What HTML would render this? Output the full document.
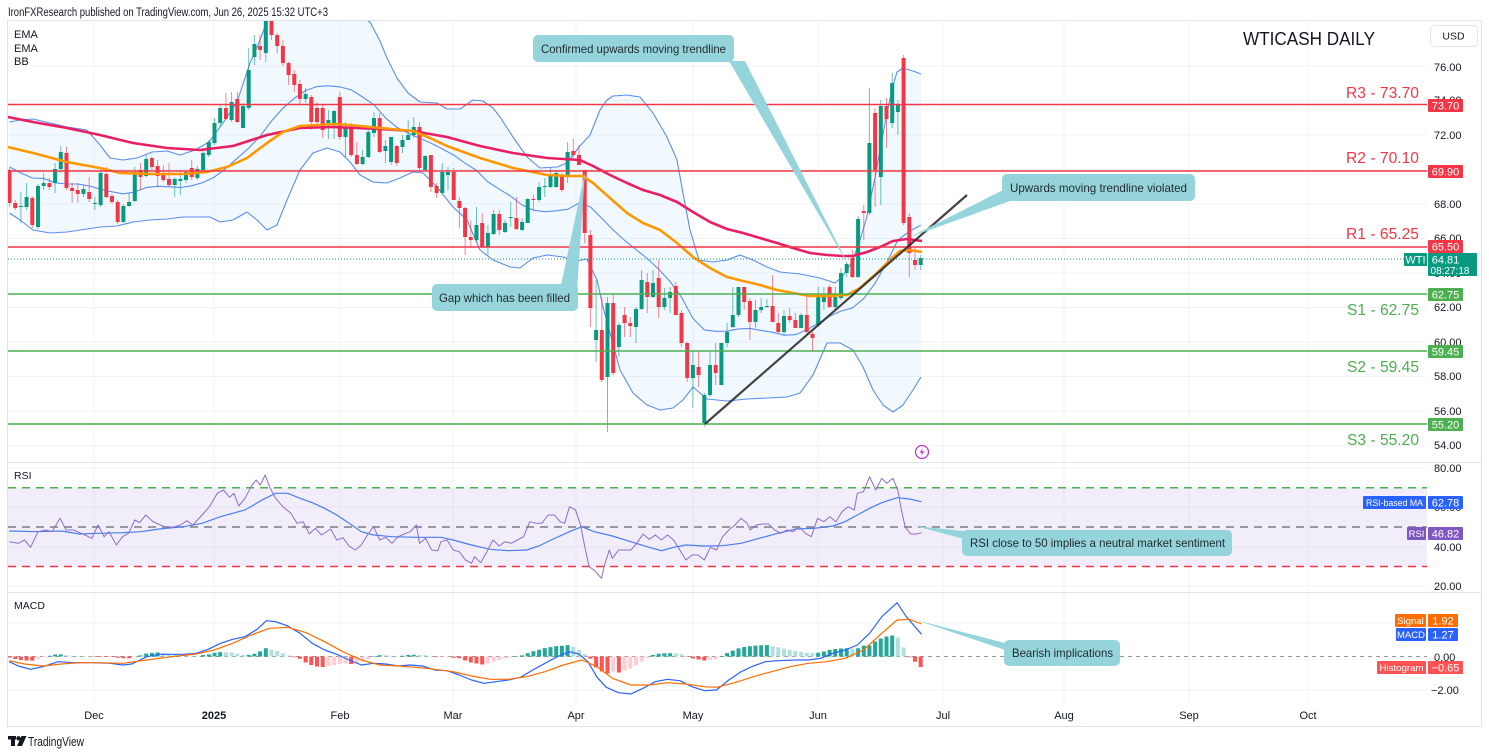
<!DOCTYPE html>
<html><head><meta charset="utf-8">
<style>
html,body{margin:0;padding:0;background:#fff;}
svg{display:block;font-family:"Liberation Sans",sans-serif;}
</style></head>
<body>
<svg width="1489" height="755" viewBox="0 0 1489 755" xmlns="http://www.w3.org/2000/svg">
<defs>
<clipPath id="mainClip"><rect x="8" y="21" width="1419" height="441"/></clipPath>
<clipPath id="rsiClip"><rect x="8" y="463" width="1419" height="129"/></clipPath>
<clipPath id="macdClip"><rect x="8" y="593" width="1419" height="110"/></clipPath>
</defs>
<rect width="1489" height="755" fill="#fff"/>
<text x="8" y="16" font-size="11.5" fill="#131722" textLength="320" lengthAdjust="spacingAndGlyphs">IronFXResearch published on TradingView.com, Jun 26, 2025 15:32 UTC+3</text>

<!-- grid -->
<g stroke="#F2F3F6" stroke-width="1">
<line x1="94" y1="21" x2="94" y2="703"/><line x1="214" y1="21" x2="214" y2="703"/><line x1="340" y1="21" x2="340" y2="703"/><line x1="453" y1="21" x2="453" y2="703"/><line x1="576" y1="21" x2="576" y2="703"/><line x1="693" y1="21" x2="693" y2="703"/><line x1="818" y1="21" x2="818" y2="703"/><line x1="943" y1="21" x2="943" y2="703"/><line x1="1064" y1="21" x2="1064" y2="703"/><line x1="1189" y1="21" x2="1189" y2="703"/><line x1="1308" y1="21" x2="1308" y2="703"/>
<line x1="8" y1="66" x2="1427" y2="66"/><line x1="8" y1="100.5" x2="1427" y2="100.5"/><line x1="8" y1="135" x2="1427" y2="135"/><line x1="8" y1="169.5" x2="1427" y2="169.5"/><line x1="8" y1="204" x2="1427" y2="204"/><line x1="8" y1="238.5" x2="1427" y2="238.5"/><line x1="8" y1="273" x2="1427" y2="273"/><line x1="8" y1="307.5" x2="1427" y2="307.5"/><line x1="8" y1="342" x2="1427" y2="342"/><line x1="8" y1="376.5" x2="1427" y2="376.5"/><line x1="8" y1="411" x2="1427" y2="411"/><line x1="8" y1="445.5" x2="1427" y2="445.5"/>
<line x1="8" y1="468" x2="1427" y2="468"/><line x1="8" y1="507" x2="1427" y2="507"/><line x1="8" y1="547" x2="1427" y2="547"/><line x1="8" y1="586" x2="1427" y2="586"/>
<line x1="8" y1="623" x2="1427" y2="623"/><line x1="8" y1="690" x2="1427" y2="690"/>
</g>

<!-- main pane -->
<g clip-path="url(#mainClip)">
<polygon fill="rgba(33,150,243,0.06)" points="9.5,122 20,120 33,119 50,123 67,127 87,130 100,145 110,158 123,160 137,158 152,152 167,151 180,155 195,150 209,142 223,123 237,102 250,63 258,45 266,24 275,8 294,1 323,14 351,12 370,22 380,41 387,58 397,78 408,93 420,102 437,103 447,109 460,109 473,100 483,101 493,108 500,117 513,137 527,157 540,168 557,167 567,163 579,147 590,135 600,110 607,100 613,96 627,95 640,97 653,113 667,137 677,160 683,193 690,230 699,260 713,262 727,260 740,255 753,260 767,267 780,272 800,274 820,278 835,283 843,276 852,262 860,240 866,220 875,178 880,150 886,118 892,89 897,72 903,68 913,71 921,74 921,377 913,390 903,405 893,412 883,405 873,390 863,367 853,350 840,343 827,343 813,375 800,393 787,397 767,398 747,399 727,401 707,399 700,393 693,387 683,400 673,408 660,410 647,405 633,393 620,370 610,333 603,307 597,280 587,259 577,261 563,257 547,255 533,258 520,268 510,267 493,260 480,250 467,220 453,207 437,187 423,173 413,172 400,178 387,183 373,182 360,175 350,162 340,152 327,148 313,153 300,170 287,200 277,225 267,230 257,220 247,212 233,220 220,222 210,217 200,217 183,217 167,219 150,220 133,222 117,226 100,227 87,229 67,232 50,233 33,230 20,220 9.5,213"/>
<g fill="none" stroke="#5B8DEF" stroke-width="1.1" stroke-linejoin="round">
<polyline points="9.5,122 20,120 33,119 50,123 67,127 87,130 100,145 110,158 123,160 137,158 152,152 167,151 180,155 195,150 209,142 223,123 237,102 250,63 258,45 266,24 275,8 294,1 323,14 351,12 370,22 380,41 387,58 397,78 408,93 420,102 437,103 447,109 460,109 473,100 483,101 493,108 500,117 513,137 527,157 540,168 557,167 567,163 579,147 590,135 600,110 607,100 613,96 627,95 640,97 653,113 667,137 677,160 683,193 690,230 699,260 713,262 727,260 740,255 753,260 767,267 780,272 800,274 820,278 835,283 843,276 852,262 860,240 866,220 875,178 880,150 886,118 892,89 897,72 903,68 913,71 921,74"/>
<polyline points="9.5,213 20,220 33,230 50,233 67,232 87,229 100,227 117,226 133,222 150,220 167,219 183,217 200,217 210,217 220,222 233,220 247,212 257,220 267,230 277,225 287,200 300,170 313,153 327,148 340,152 350,162 360,175 373,182 387,183 400,178 413,172 423,173 437,187 453,207 467,220 480,250 493,260 510,267 520,268 533,258 547,255 563,257 577,261 587,259 597,280 603,307 610,333 620,370 633,393 647,405 660,410 673,408 683,400 693,387 700,393 707,399 727,401 747,399 767,398 787,397 800,393 813,375 827,343 840,343 853,350 863,367 873,390 883,405 893,412 903,405 913,390 921,377"/>
<polyline points="9.5,166.9 20.9,173 32.3,178 43.7,178.4 55.1,182.8 66.5,184 77.8,184 89.2,186 100.6,189.2 112,191.8 123.4,193.9 134.8,191.9 146.2,187.6 157.6,186.3 169,186.7 180.4,187.6 191.7,185.8 203.1,182.5 214.5,177 225.9,168.4 237.3,158.2 248.7,148.3 260.1,136.2 271.5,121 282.9,108.2 294.3,98.3 305.6,90.5 317,86.6 328.4,85.8 339.8,86.9 351.2,89.8 362.6,97 374,104.8 385.4,117.8 396.8,127.3 408.2,133.1 419.5,138.2 430.9,143.1 442.3,148.9 453.7,155.1 465.1,163.2 476.5,170.4 487.9,181.9 499.3,189.2 510.7,196.2 522.1,205 533.4,210.2 544.8,211.7 556.2,210.8 567.6,209.3 579,203.1 590.4,206.9 601.8,218.4 613.2,230 624.6,240.4 636,249.6 647.3,258.5 658.7,269.3 670.1,281.5 681.5,297.3 692.9,318.4 704.3,329.9 715.7,331.3 727.1,331.2 738.5,328.9 749.9,328.4 761.2,330.4 772.6,332.3 784,335.2 795.4,334.7 806.8,329.9 818.2,323.1 829.6,316.3 841,311 852.4,308 863.8,298.4 875.1,283.2 886.5,263 897.9,240 909.3,231.4 920.7,225.2"/>
</g>
<!-- candles -->
<path stroke="#089981" stroke-opacity="0.6" stroke-width="1" fill="none" d="M20.9 192V223 M26.6 183V210 M38 184V229 M43.7 173V190 M55.1 163V193 M60.8 146V173 M83.5 185V197 M94.9 197V210 M100.6 170V207 M123.4 204V223 M129.1 193V207 M134.8 167V202 M146.2 155V177 M174.7 177V197 M180.4 172V195 M186 170V183 M197.4 166V180 M203.1 150V172 M208.8 140V157 M214.5 118V145 M220.2 105V127 M231.6 92V122 M243 103V128 M248.7 48V110 M254.4 35V65 M265.8 -6V62 M305.6 88V103 M328.4 110V139 M334.1 110V139 M345.5 122V157 M362.6 150V165 M368.3 130V158 M374 112V137 M385.4 140V163 M391.1 137V165 M402.5 135V153 M408.2 120V140 M413.8 117V138 M425.2 155V170 M442.3 163V193 M448 167V190 M476.5 207V242 M487.9 225V255 M493.6 210V235 M505 220V233 M510.7 202V227 M522.1 218V231 M527.7 198V223 M539.1 182V202 M544.8 178V197 M550.5 168V188 M556.2 170V188 M567.6 142V183 M596.1 280V362 M607.5 297V432 M618.9 323V357 M636 307V343 M641.6 270V310 M653 270V298 M664.4 288V310 M670.1 287V313 M692.9 350V408 M704.3 393V427 M710 352V397 M721.4 343V385 M727.1 323V347 M732.8 287V328 M738.5 287V317 M755.5 300V328 M761.2 298V313 M766.9 299V308 M784 310V335 M801.1 313V328 M818.2 287V327 M823.9 287V310 M835.3 287V310 M841 268V300 M846.7 262V277 M858.1 216V278 M869.4 88V215 M880.8 100V205 M892.2 73V128 M897.9 100V135 M920.7 255V270"/>
<path stroke="#F23645" stroke-opacity="0.6" stroke-width="1" fill="none" d="M9.5 168V207 M15.2 200V210 M32.3 196V228 M49.4 178V190 M66.5 147V190 M72.1 183V203 M77.8 183V203 M89.2 177V202 M106.3 167V198 M112 194V204 M117.7 200V224 M140.5 163V190 M151.9 157V170 M157.6 160V187 M163.3 165V182 M169 163V187 M191.7 160V180 M225.9 93V120 M237.3 92V123 M260.1 35V60 M271.5 -2V40 M277.2 33V53 M282.9 40V66 M288.6 62V85 M294.3 70V92 M299.9 80V105 M311.3 95V130 M317 102V127 M322.7 105V138 M339.8 92V140 M351.2 123V157 M356.9 142V165 M379.7 113V153 M396.8 145V166 M419.5 122V170 M430.9 155V192 M436.6 183V198 M453.7 168V200 M459.4 197V228 M465.1 207V255 M470.8 220V247 M482.2 213V247 M499.3 210V235 M516.4 197V230 M533.4 195V210 M561.9 173V192 M573.3 139V158 M579 145V165 M584.7 170V243 M590.4 230V327 M601.8 297V382 M613.2 295V375 M624.6 307V337 M630.3 317V337 M647.3 273V313 M658.7 260V318 M675.8 282V315 M681.5 310V347 M687.2 342V382 M698.6 350V387 M715.7 343V385 M744.2 287V310 M749.9 298V340 M772.6 275V322 M778.3 313V333 M789.7 308V323 M795.4 313V328 M806.8 295V335 M812.5 332V351 M829.6 285V308 M852.4 250V278 M863.8 205V240 M875.1 108V207 M886.5 98V148 M903.6 55V225 M909.3 213V277 M915 248V270"/>
<path fill="#089981" d="M18.9 206h4v1h-4z M24.6 197h4v10h-4z M36 186h4v41h-4z M41.7 183h4v3h-4z M53.1 169h4v14h-4z M58.8 152h4v17h-4z M81.5 189h4v5h-4z M92.9 203h4v1h-4z M98.6 173h4v32h-4z M121.4 206h4v16h-4z M127.1 202h4v4h-4z M132.8 172h4v29h-4z M144.2 159h4v17h-4z M172.7 179h4v6h-4z M178.4 179h4v2h-4z M184 172h4v8h-4z M195.4 169h4v9h-4z M201.1 153h4v17h-4z M206.8 142h4v13h-4z M212.5 123h4v20h-4z M218.2 108h4v15h-4z M229.6 102h4v18h-4z M241 106h4v22h-4z M246.7 70h4v38h-4z M252.4 44h4v13h-4z M263.8 4h4v49h-4z M303.6 94h4v5h-4z M326.4 120h4v3h-4z M332.1 111h4v12h-4z M343.5 127h4v10h-4z M360.6 157h4v7h-4z M366.3 132h4v25h-4z M372 118h4v15h-4z M383.4 146h4v5h-4z M389.1 137h4v25h-4z M400.5 140h4v7h-4z M406.2 135h4v5h-4z M411.8 127h4v8h-4z M423.2 156h4v14h-4z M440.3 172h4v21h-4z M446 172h4v3h-4z M474.5 225h4v15h-4z M485.9 233h4v14h-4z M491.6 214h4v20h-4z M503 223h4v9h-4z M508.7 217h4v1h-4z M520.1 222h4v8h-4z M525.7 199h4v24h-4z M537.1 187h4v13h-4z M542.8 186h4v1h-4z M548.5 174h4v13h-4z M554.2 173h4v14h-4z M565.6 152h4v25h-4z M594.1 330h4v10h-4z M605.5 303h4v74h-4z M616.9 325h4v22h-4z M634 309h4v18h-4z M639.6 280h4v29h-4z M651 283h4v14h-4z M662.4 298h4v9h-4z M668.1 292h4v6h-4z M690.9 365h4v13h-4z M702.3 395h4v28h-4z M708 365h4v30h-4z M719.4 343h4v42h-4z M725.1 332h4v11h-4z M730.8 315h4v12h-4z M736.5 287h4v28h-4z M753.5 310h4v12h-4z M759.2 307h4v3h-4z M764.9 306h4v1h-4z M782 316h4v16h-4z M799.1 315h4v13h-4z M816.2 296h4v29h-4z M821.9 295h4v7h-4z M833.3 297h4v10h-4z M839 273h4v25h-4z M844.7 264h4v9h-4z M856.1 219h4v58h-4z M867.4 143h4v70h-4z M878.8 106h4v71h-4z M890.2 83h4v40h-4z M895.9 105h4v7h-4z M918.7 258h4v7h-4z"/>
<path fill="#F23645" d="M7.5 170h4v33h-4z M13.2 203h4v5h-4z M30.3 198h4v27h-4z M47.4 183h4v4h-4z M64.5 153h4v35h-4z M70.1 188h4v3h-4z M75.8 190h4v4h-4z M87.2 192h4v7h-4z M104.3 174h4v23h-4z M110 196h4v6h-4z M115.7 202h4v20h-4z M138.5 170h4v7h-4z M149.9 158h4v9h-4z M155.6 166h4v10h-4z M161.3 173h4v7h-4z M167 179h4v6h-4z M189.7 168h4v9h-4z M223.9 108h4v11h-4z M235.3 99h4v23h-4z M258.1 46h4v4h-4z M269.5 4h4v31h-4z M275.2 35h4v11h-4z M280.9 46h4v17h-4z M286.6 63h4v12h-4z M292.3 74h4v11h-4z M297.9 84h4v15h-4z M309.3 97h4v25h-4z M315 108h4v14h-4z M320.7 108h4v22h-4z M337.8 97h4v40h-4z M349.2 128h4v27h-4z M354.9 155h4v9h-4z M377.7 118h4v34h-4z M394.8 146h4v17h-4z M417.5 127h4v41h-4z M428.9 155h4v32h-4z M434.6 186h4v7h-4z M451.7 172h4v28h-4z M457.4 201h4v7h-4z M463.1 208h4v29h-4z M468.8 237h4v3h-4z M480.2 223h4v24h-4z M497.3 214h4v16h-4z M514.4 218h4v11h-4z M531.4 199h4v1h-4z M559.9 175h4v15h-4z M571.3 151h4v4h-4z M577 155h4v10h-4z M582.7 170h4v63h-4z M588.4 235h4v73h-4z M599.8 330h4v50h-4z M611.2 303h4v70h-4z M622.6 315h4v8h-4z M628.3 323h4v3h-4z M645.3 282h4v15h-4z M656.7 278h4v29h-4z M673.8 286h4v29h-4z M679.5 313h4v30h-4z M685.2 343h4v35h-4z M696.6 367h4v8h-4z M713.7 365h4v8h-4z M742.2 287h4v15h-4z M747.9 301h4v21h-4z M770.6 306h4v16h-4z M776.3 323h4v9h-4z M787.7 316h4v4h-4z M793.4 320h4v8h-4z M804.8 315h4v17h-4z M810.5 334h4v4h-4z M827.6 287h4v20h-4z M850.4 258h4v19h-4z M861.8 211h4v2h-4z M873.1 113h4v57h-4z M884.5 106h4v13h-4z M901.6 58h4v165h-4z M907.3 217h4v36h-4z M913 260h4v5h-4z"/>
<!-- EMAs -->
<polyline fill="none" stroke="#E91E63" stroke-width="2.6" stroke-linejoin="round" points="8,117 33,122 67,128 100,135 133,143 167,148 200,150 233,146 267,135 300,128 333,127 380,129 413,131 447,137 480,146 513,153 547,158 580,160 593,166 610,175 627,183 643,190 660,195 677,202 693,212 710,222 727,229 743,233 760,238 777,243 793,248 810,253 827,255 843,256 853,256 867,252 880,247 893,241 907,239 922,241"/>
<polyline fill="none" stroke="#FF9800" stroke-width="2.6" stroke-linejoin="round" points="8,147 33,153 67,162 100,168 120,173 150,174 183,174 207,172 227,167 247,158 267,143 283,132 300,126 333,124 350,125 380,128 413,131 430,138 447,146 480,158 513,168 547,175 570,176 583,176 593,183 610,198 627,213 643,223 660,230 677,243 693,257 710,268 727,277 743,281 760,285 777,290 793,293 810,296 827,296 847,295 860,288 877,273 893,257 900,251 910,250 922,252"/>
<line x1="8" y1="259" x2="1404" y2="259" stroke="#089981" stroke-width="1" stroke-dasharray="1,2"/>
<g stroke-width="1.6">
<line x1="8" y1="104.5" x2="1427" y2="104.5" stroke="#F23645"/>
<line x1="8" y1="171" x2="1427" y2="171" stroke="#F23645"/>
<line x1="8" y1="247" x2="1427" y2="247" stroke="#F23645"/>
<line x1="8" y1="294" x2="1427" y2="294" stroke="#4CAF50"/>
<line x1="8" y1="351" x2="1427" y2="351" stroke="#4CAF50"/>
<line x1="8" y1="424" x2="1427" y2="424" stroke="#4CAF50"/>
</g>
<line x1="705" y1="424" x2="967" y2="195" stroke="#2f2f2f" stroke-width="2.2" stroke-opacity="0.9"/>
</g>

<!-- R/S labels -->
<g font-size="16" fill="#F23645">
<text x="1346" y="98" textLength="73" lengthAdjust="spacingAndGlyphs">R3 - 73.70</text>
<text x="1346" y="163" textLength="73" lengthAdjust="spacingAndGlyphs">R2 - 70.10</text>
<text x="1346" y="239" textLength="73" lengthAdjust="spacingAndGlyphs">R1 - 65.25</text>
</g>
<g font-size="16" fill="#4CAF50">
<text x="1347" y="315" textLength="72" lengthAdjust="spacingAndGlyphs">S1 - 62.75</text>
<text x="1347" y="372" textLength="72" lengthAdjust="spacingAndGlyphs">S2 - 59.45</text>
<text x="1347" y="445" textLength="72" lengthAdjust="spacingAndGlyphs">S3 - 55.20</text>
</g>

<!-- lightning icon -->
<g transform="translate(922,452)">
<circle r="6.5" fill="#fff" stroke="#C837D6" stroke-width="1.3"/>
<path d="M1,-4 L-2.5,0.8 L0,0.8 L-1,4 L2.5,-0.8 L0,-0.8 Z" fill="#C837D6"/>
</g>

<!-- RSI pane -->
<rect x="8" y="487.7" width="1419" height="79" fill="rgba(126,87,194,0.1)"/>
<line x1="8" y1="487.7" x2="1427" y2="487.7" stroke="#4CAF50" stroke-width="1.5" stroke-dasharray="8,6"/>
<line x1="8" y1="527" x2="1427" y2="527" stroke="#787B86" stroke-width="1.5" stroke-dasharray="8,6"/>
<line x1="8" y1="566.5" x2="1427" y2="566.5" stroke="#F23645" stroke-width="1.5" stroke-dasharray="8,6"/>
<g clip-path="url(#rsiClip)" fill="none">
<polyline stroke="#4A7CF0" stroke-width="1.2" points="9.2,531 36.7,531.7 61.2,531 79.6,534 98,533.3 122.5,532.7 140.8,531.7 159.2,529 183.7,526.7 202.1,523.3 220.5,516.7 245,510 263.3,499.3 275.6,493.3 287.8,493.3 300.1,498.3 312.3,502.7 324.6,508.3 336.8,515 349.1,523.3 361.3,531.7 373.6,535 391.9,536.7 416.4,537.3 440.9,537.3 453.2,540 471.5,545 489.9,549.3 508.3,550.7 526.6,550 538.9,546 551.1,540 569.5,531.7 581.8,526.7 594,531.7 612.4,536 630.8,541.7 649.1,547.3 661.4,550.7 673.6,547.3 685.9,545 704.3,546 722.6,545.7 741,543.3 759.3,538.3 777.7,533.3 796.1,529 814.4,528.3 832.8,526 845.1,521.7 857.3,515 869.6,508.3 881.8,502.7 897.1,497.7 909.4,499 921.6,501.7"/>
<polyline stroke="#8E6CCB" stroke-width="1" stroke-linejoin="round" points="9.2,541.7 18.4,543.3 24.5,540 30.6,547.3 38,531.7 45.9,530 52.1,531.7 60,518.3 66.1,530 73.5,530 82.7,534 91.9,538.3 98,525 104.1,536.7 109,531.7 116.4,545 122.5,536.7 128.6,533.3 134.7,520 139.6,522.7 145.8,515 153.1,521.7 160.4,525 166.6,527.7 174.5,526.7 180.7,525 186.8,520.7 192.9,525 202.1,515 209.4,506.7 217.4,493.3 223.5,490 229.6,497.3 233.9,493.3 238.8,506 245,498.3 251.1,486.7 256,480 260.3,485 265.2,475 269.5,486.7 275.6,498.3 282.9,506.7 290.9,513.3 297,523.3 303.1,521.7 309.3,534 315.4,528.3 321.5,535 330.7,529 336.8,540 342.9,537.7 349.1,546 355.2,550 361.3,545 367.4,535 373.6,526.7 379.7,540 385.8,537.3 391.9,543.3 398.1,536.7 404.2,534 410.3,531.7 416.4,525 419.5,543.3 425.6,538.3 431.7,550 437.9,550.7 440.9,541.7 447.1,540 453.2,550 459.3,551.7 465.4,560 471.5,563.3 474.6,556.7 480.7,562.7 486.9,551.7 493,540 499.1,546 505.2,541.7 511.3,543.3 517.5,540 523.6,536.7 529.7,521.7 535.8,523.3 541.9,523.3 548.1,515 554.2,515 560.3,521.7 564.6,523.3 569.5,506.7 575.6,510 580.5,525 584.8,546.7 589.1,566.7 594,570 597.1,573.3 601.4,578.3 605,563.3 609.3,550 612.4,558.3 618.5,550 624.6,550 630.8,550 636.9,543.3 643,534 649.1,539.3 655.3,535 661.4,540 667.5,535 673.6,540 679.8,550 685.9,560 692,555 698.1,555 704.3,560 710.4,547.3 716.5,550 722.6,536.7 728.8,530 734.9,525 741,518.3 747.1,523.3 750.2,530 756.3,525 762.4,524 768.6,524 774.7,530 780.8,533.3 786.9,530 793.1,531.7 799.2,526.7 805.3,533.3 811.4,536.7 817.5,518.3 823.7,521.7 829.8,516.7 835.9,521.7 842,511.7 848.2,506.7 854.3,510 857.3,493.3 863.5,491.7 869.6,476.7 875.7,490 881.8,478.3 886.7,483.3 892.9,478.3 897.8,490 901.4,510 905.1,526.7 910.6,534 916.7,534 921.6,532.7"/>
</g>

<!-- MACD pane -->
<line x1="8" y1="656.5" x2="1427" y2="656.5" stroke="#9598A1" stroke-width="1" stroke-dasharray="4,4"/>
<g clip-path="url(#macdClip)">
<path fill="#26A69A" d="M47.4 655.8h4v0.7h-4z M53.1 654.5h4v2h-4z M58.8 654.4h4v2.1h-4z M138.5 655.4h4v1.1h-4z M144.2 653.5h4v3h-4z M149.9 652.9h4v3.6h-4z M155.6 652.5h4v4h-4z M201.1 655h4v1.5h-4z M206.8 654.4h4v2.1h-4z M212.5 652.7h4v3.8h-4z M218.2 652.1h4v4.4h-4z M246.7 654.9h4v1.6h-4z M252.4 653.7h4v2.8h-4z M258.1 651.4h4v5.1h-4z M263.8 648.2h4v8.3h-4z M372 656h4v0.5h-4z M377.7 655.2h4v1.3h-4z M400.5 655.8h4v0.7h-4z M406.2 655h4v1.5h-4z M411.8 654.7h4v1.8h-4z M514.4 656h4v0.5h-4z M520.1 655.4h4v1.1h-4z M525.7 653.2h4v3.3h-4z M531.4 651.3h4v5.2h-4z M537.1 649.7h4v6.8h-4z M542.8 648.1h4v8.4h-4z M548.5 647.1h4v9.4h-4z M554.2 646.1h4v10.4h-4z M559.9 645.8h4v10.7h-4z M565.6 645.1h4v11.4h-4z M651 655h4v1.5h-4z M656.7 653.7h4v2.8h-4z M662.4 653.3h4v3.2h-4z M668.1 653.2h4v3.3h-4z M719.4 656h4v0.5h-4z M725.1 653.1h4v3.4h-4z M730.8 650.6h4v5.9h-4z M736.5 648.4h4v8.1h-4z M742.2 647h4v9.5h-4z M747.9 646.2h4v10.3h-4z M753.5 645.6h4v10.9h-4z M759.2 645.2h4v11.3h-4z M764.9 645.1h4v11.4h-4z M816.2 652.7h4v3.8h-4z M821.9 651.5h4v5h-4z M827.6 649.9h4v6.6h-4z M833.3 649h4v7.5h-4z M839 648.5h4v8h-4z M844.7 648.2h4v8.3h-4z M856.1 648.2h4v8.3h-4z M861.8 645.6h4v10.9h-4z M867.4 645.4h4v11.1h-4z M873.1 641.5h4v15h-4z M878.8 638.5h4v18h-4z M884.5 636.5h4v20h-4z M890.2 635.5h4v21h-4z"/>
<path fill="#B2DFDB" d="M64.5 655.1h4v1.4h-4z M70.1 655.9h4v0.6h-4z M75.8 656h4v0.5h-4z M81.5 656h4v0.5h-4z M87.2 656h4v0.5h-4z M161.3 653h4v3.5h-4z M167 653.8h4v2.7h-4z M172.7 654.5h4v2h-4z M178.4 655.1h4v1.4h-4z M184 655.5h4v1h-4z M189.7 655.6h4v0.9h-4z M195.4 655.6h4v0.9h-4z M223.9 652.2h4v4.3h-4z M229.6 652.5h4v4h-4z M235.3 653.6h4v2.9h-4z M241 655h4v1.5h-4z M269.5 649.6h4v6.9h-4z M275.2 650.9h4v5.6h-4z M280.9 653.2h4v3.3h-4z M286.6 655.5h4v1h-4z M383.4 655.2h4v1.3h-4z M389.1 655.8h4v0.7h-4z M394.8 656h4v0.5h-4z M417.5 654.7h4v1.8h-4z M423.2 655.1h4v1.4h-4z M428.9 656h4v0.5h-4z M446 656h4v0.5h-4z M571.3 646.8h4v9.7h-4z M577 650h4v6.5h-4z M582.7 654.2h4v2.3h-4z M673.8 653.5h4v3h-4z M679.5 654.3h4v2.2h-4z M770.6 646.2h4v10.3h-4z M776.3 647.3h4v9.2h-4z M782 648.6h4v7.9h-4z M787.7 650h4v6.5h-4z M793.4 650.8h4v5.7h-4z M799.1 651.9h4v4.6h-4z M804.8 652.9h4v3.6h-4z M810.5 653h4v3.5h-4z M850.4 648.5h4v8h-4z M895.9 637.5h4v19h-4z M901.6 647.5h4v9h-4z"/>
<path fill="#FF5252" d="M7.5 656.5h4v1h-4z M13.2 656.5h4v2.5h-4z M18.9 656.5h4v3.5h-4z M24.6 656.5h4v4h-4z M30.3 656.5h4v4.1h-4z M92.9 656.5h4v0.5h-4z M98.6 656.5h4v0.5h-4z M104.3 656.5h4v0.5h-4z M110 656.5h4v0.5h-4z M115.7 656.5h4v1.2h-4z M121.4 656.5h4v1.7h-4z M127.1 656.5h4v1.8h-4z M292.3 656.5h4v0.7h-4z M297.9 656.5h4v2.3h-4z M303.6 656.5h4v6h-4z M309.3 656.5h4v8.5h-4z M315 656.5h4v10h-4z M320.7 656.5h4v10.5h-4z M349.2 656.5h4v7.5h-4z M434.6 656.5h4v0.6h-4z M451.7 656.5h4v1.2h-4z M457.4 656.5h4v1.8h-4z M463.1 656.5h4v4h-4z M468.8 656.5h4v6h-4z M474.5 656.5h4v7h-4z M480.2 656.5h4v8h-4z M588.4 656.5h4v2.3h-4z M594.1 656.5h4v11h-4z M599.8 656.5h4v15h-4z M605.5 656.5h4v17h-4z M616.9 656.5h4v16h-4z M685.2 656.5h4v0.5h-4z M690.9 656.5h4v2h-4z M696.6 656.5h4v3h-4z M702.3 656.5h4v4h-4z M907.3 656.5h4v0.8h-4z M913 656.5h4v5.2h-4z M918.7 656.5h4v10.5h-4z"/>
<path fill="#FFCDD2" d="M36 656.5h4v2.4h-4z M41.7 656.5h4v0.5h-4z M132.8 656.5h4v0.8h-4z M326.4 656.5h4v9.5h-4z M332.1 656.5h4v8.5h-4z M337.8 656.5h4v7.5h-4z M343.5 656.5h4v7h-4z M354.9 656.5h4v6.5h-4z M360.6 656.5h4v5h-4z M366.3 656.5h4v2.5h-4z M440.3 656.5h4v0.5h-4z M485.9 656.5h4v7h-4z M491.6 656.5h4v5h-4z M497.3 656.5h4v3.5h-4z M503 656.5h4v2h-4z M508.7 656.5h4v1h-4z M611.2 656.5h4v15h-4z M622.6 656.5h4v14h-4z M628.3 656.5h4v12h-4z M634 656.5h4v9h-4z M639.6 656.5h4v5h-4z M645.3 656.5h4v1.5h-4z M708 656.5h4v3.4h-4z M713.7 656.5h4v2.7h-4z"/>
<polyline fill="none" stroke="#2962FF" stroke-width="1.2" stroke-linejoin="round" points="9.2,661.7 18.4,666 30.6,669.3 42.9,666.7 58.2,661.7 73.5,662.7 91.9,662.7 110.2,663.3 122.5,665 131.7,664 147,656.7 159.2,654.3 183.7,654.3 196,653.3 208.2,649.3 220.5,643.3 232.7,639.3 245,636.7 257.2,629.3 266.4,620.7 275.6,621.7 287.8,626 300.1,633.3 312.3,643.3 324.6,650 336.8,654.3 349.1,660 361.3,665 373.6,663.3 385.8,664 398.1,666 410.3,665 422.5,666 434.8,670 447.1,670.7 459.3,675 471.5,680 483.8,683.3 496,681.7 508.3,680 520.5,677.3 532.8,670 545,663.3 557.3,656.7 569.5,651.7 578.7,654 587.9,661.7 597.1,677.3 606.3,687.3 618.5,692.7 630.8,694 643,688.3 655.3,681.7 667.5,679.3 679.8,680.7 692,686.7 704.3,690.7 716.5,690 728.8,680 741,671.7 753.2,666 765.5,661.7 777.7,660.7 796.1,660 808.3,660 820.6,658.3 832.8,653.3 845.1,650 857.3,645 869.6,633.3 881.8,616.7 897.1,602.7 906.3,616.7 921.6,634.3"/>
<polyline fill="none" stroke="#FF6D00" stroke-width="1.2" stroke-linejoin="round" points="9.2,660.7 24.5,664 42.9,666 61.2,664 79.6,662.7 98,662.7 122.5,663.3 147,660 171.5,656.7 196,654 214.3,650 232.7,643.3 251.1,635 269.5,628.3 287.8,627.3 306.2,632.7 324.6,641.7 342.9,651.7 361.3,660 379.7,665 398.1,666 416.4,667.3 434.8,669.3 453.2,671.7 471.5,676 489.9,679.3 508.3,679.3 526.6,676.7 545,671.7 563.4,665 581.8,660 597.1,666.7 612.4,678.3 630.8,685 649.1,685 667.5,682.7 685.9,684 704.3,686.7 716.5,687.3 734.9,682.7 753.2,676.7 771.6,671.7 790,666.7 808.3,663.3 826.7,661.7 845.1,658.3 863.5,650 881.8,633.3 897.1,620 909.4,619.3 921.6,624"/>
</g>

<!-- borders / separators -->
<rect x="7.5" y="20.5" width="1474" height="706" fill="none" stroke="#E0E3EB"/>
<line x1="8" y1="462.5" x2="1481" y2="462.5" stroke="#E0E3EB"/>
<line x1="8" y1="592.5" x2="1481" y2="592.5" stroke="#E0E3EB"/>

<!-- pane legends -->
<g font-size="11" fill="#131722">
<text x="14" y="38">EMA</text>
<text x="14" y="52">EMA</text>
<text x="14" y="65">BB</text>
<text x="14" y="479" font-size="10.5">RSI</text>
<text x="14" y="609" font-size="10.5">MACD</text>
</g>

<text x="1243" y="45" font-size="18" fill="#131722" textLength="132" lengthAdjust="spacingAndGlyphs">WTICASH DAILY</text>
<rect x="1430.5" y="25.5" width="47" height="21" rx="4" fill="#fff" stroke="#E0E3EB"/>
<text x="1453.5" y="39.5" font-size="10.5" fill="#131722" text-anchor="middle">USD</text>

<!-- price axis labels -->
<g font-size="11" fill="#131722">
<text x="1434" y="71">76.00</text>
<text x="1434" y="104">74.00</text>
<text x="1434" y="139">72.00</text>
<text x="1434" y="173">70.00</text>
<text x="1434" y="208">68.00</text>
<text x="1434" y="242">66.00</text>
<text x="1434" y="277">64.00</text>
<text x="1434" y="311">62.00</text>
<text x="1434" y="346">60.00</text>
<text x="1434" y="380">58.00</text>
<text x="1434" y="415">56.00</text>
<text x="1434" y="449">54.00</text>
<text x="1434" y="472">80.00</text>
<text x="1434" y="511">60.00</text>
<text x="1434" y="551">40.00</text>
<text x="1434" y="590">20.00</text>
<text x="1434" y="627">2.00</text>
<text x="1434" y="661">0.00</text>
<text x="1431" y="694">−2.00</text>
</g>

<!-- tags -->
<g font-size="11" fill="#fff" text-anchor="middle">
<rect x="1428" y="99" width="35" height="13" rx="1" fill="#F23645"/><text x="1445.5" y="109.5">73.70</text>
<rect x="1428" y="165" width="35" height="13" rx="1" fill="#F23645"/><text x="1445.5" y="175.5">69.90</text>
<rect x="1428" y="240" width="35" height="13" rx="1" fill="#F23645"/><text x="1445.5" y="250.5">65.50</text>
<rect x="1404" y="253" width="23" height="13" rx="1" fill="#089981"/><text x="1415.5" y="263.5">WTI</text>
<rect x="1428" y="253" width="49" height="23" rx="1" fill="#089981"/><text x="1445.5" y="263.5">64.81</text><text x="1450" y="274" font-size="10">08:27:18</text>
<rect x="1428" y="288" width="35" height="13" rx="1" fill="#4CAF50"/><text x="1445.5" y="298.5">62.75</text>
<rect x="1428" y="345" width="35" height="13" rx="1" fill="#4CAF50"/><text x="1445.5" y="355.5">59.45</text>
<rect x="1428" y="418" width="35" height="13" rx="1" fill="#4CAF50"/><text x="1445.5" y="428.5">55.20</text>
<rect x="1363" y="496" width="63" height="13" rx="1" fill="#2962FF"/><text x="1394.5" y="506" font-size="9.5" textLength="57" lengthAdjust="spacingAndGlyphs">RSI-based MA</text>
<rect x="1428" y="496" width="35" height="13" rx="1" fill="#2962FF"/><text x="1445.5" y="506.5">62.78</text>
<rect x="1407" y="527" width="19" height="13" rx="1" fill="#7E57C2"/><text x="1416.5" y="537" font-size="9.5">RSI</text>
<rect x="1428" y="527" width="35" height="13" rx="1" fill="#7E57C2"/><text x="1445.5" y="537.5">46.82</text>
<rect x="1395" y="614" width="31" height="13" rx="1" fill="#FF6D00"/><text x="1410.5" y="624" font-size="9.5">Signal</text>
<rect x="1428" y="614" width="30" height="13" rx="1" fill="#FF6D00"/><text x="1443" y="624.5">1.92</text>
<rect x="1396" y="628" width="30" height="13" rx="1" fill="#2962FF"/><text x="1411" y="638" font-size="9.5">MACD</text>
<rect x="1428" y="628" width="30" height="13" rx="1" fill="#2962FF"/><text x="1443" y="638.5">1.27</text>
<rect x="1377" y="661" width="49" height="13" rx="1" fill="#FF5252"/><text x="1401.5" y="671" font-size="9.5" textLength="44" lengthAdjust="spacingAndGlyphs">Histogram</text>
<rect x="1428" y="661" width="35" height="13" rx="1" fill="#FF5252"/><text x="1445.5" y="671.5">−0.65</text>
</g>

<!-- time axis -->
<g font-size="11" fill="#131722" text-anchor="middle">
<text x="94" y="719">Dec</text>
<text x="214" y="719" font-weight="bold">2025</text>
<text x="340" y="719">Feb</text>
<text x="453" y="719">Mar</text>
<text x="576" y="719">Apr</text>
<text x="693" y="719">May</text>
<text x="818" y="719">Jun</text>
<text x="943" y="719">Jul</text>
<text x="1064" y="719">Aug</text>
<text x="1189" y="719">Sep</text>
<text x="1308" y="719">Oct</text>
</g>

<!-- callouts -->
<g fill="#96D4DB">
<polygon points="729,61 745,61 850,268"/>
<polygon points="561,285 577,291 585,172"/>
<polygon points="1003,190 1010,201 910,237"/>
<polygon points="963,531 972,541 915,526"/>
<polygon points="1005,643 1014,653 916,620"/>
<rect x="533" y="35" width="201" height="27" rx="5"/>
<rect x="1002" y="174" width="193" height="27" rx="5"/>
<rect x="432" y="284" width="146" height="27" rx="5"/>
<rect x="962" y="530" width="270" height="26" rx="5"/>
<rect x="1004" y="640" width="116" height="26" rx="5"/>
</g>
<g font-size="12" fill="#1E2A2E">
<text x="541" y="53" textLength="185" lengthAdjust="spacingAndGlyphs">Confirmed upwards moving trendline</text>
<text x="1010" y="192" textLength="177" lengthAdjust="spacingAndGlyphs">Upwards moving trendline violated</text>
<text x="439" y="302" textLength="131" lengthAdjust="spacingAndGlyphs">Gap which has been filled</text>
<text x="970" y="547" textLength="255" lengthAdjust="spacingAndGlyphs">RSI close to 50 implies a neutral market sentiment</text>
<text x="1012" y="657" textLength="101" lengthAdjust="spacingAndGlyphs">Bearish implications</text>
</g>

<!-- logo -->
<g fill="#131722">
<rect x="8" y="736" width="8" height="3.5"/>
<rect x="11" y="736" width="4" height="10"/>
<circle cx="18.5" cy="738.3" r="2.2"/>
<polygon points="21.5,736 26.5,736 22,746 17,746"/>
</g>
<text x="28" y="746" font-size="12.5" fill="#131722" textLength="56" lengthAdjust="spacingAndGlyphs">TradingView</text>
</svg>
</body></html>
